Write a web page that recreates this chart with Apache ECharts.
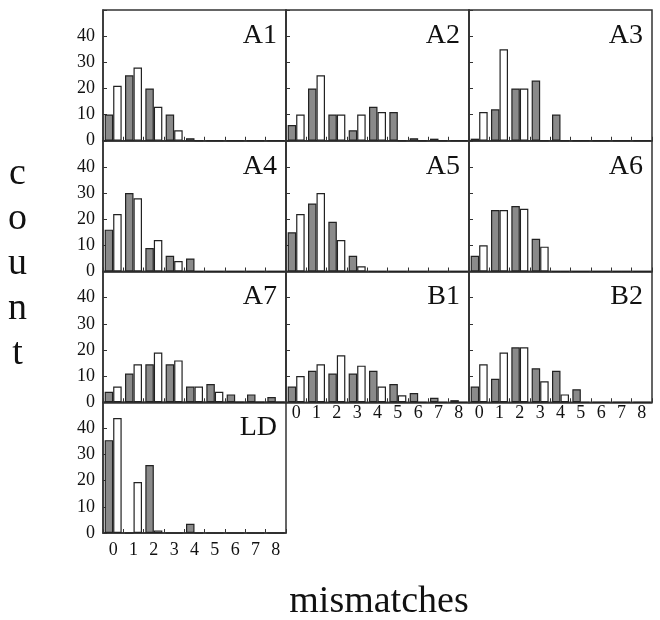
<!DOCTYPE html>
<html>
<head>
<meta charset="utf-8">
<script src="https://cdn.jsdelivr.net/npm/echarts@6/dist/echarts.min.js"></script>
<style>
html,body{margin:0;padding:0;background:#fff;}
#chart{width:660px;height:620px;}
</style>
</head>
<body>
<div id="chart"></div>
<script>
// ---- data ----
const categories = ['0','1','2','3','4','5','6','7','8'];
const yTickValues = [0, 10, 20, 30, 40];
const panelNames = ['A1','A2','A3','A4','A5','A6','A7','B1','B2','LD'];

const a1Gray  = [10, 25, 20, 10, 1, 0, 0, 0, 0];
const a1White = [21, 28, 13, 4, 0, 0, 0, 0, 0];
const a2Gray  = [6, 20, 10, 4, 13, 11, 1, 0.8, 0];
const a2White = [10, 25, 10, 10, 11, 0, 0, 0, 0];
const a3Gray  = [0.8, 12, 20, 23, 10, 0, 0, 0, 0];
const a3White = [11, 35, 20, 0, 0, 0, 0, 0, 0];
const a4Gray  = [16, 30, 9, 6, 5, 0, 0, 0, 0];
const a4White = [22, 28, 12, 4, 0, 0, 0, 0, 0];
const a5Gray  = [15, 26, 19, 6, 0, 0, 0, 0, 0];
const a5White = [22, 30, 12, 2, 0, 0, 0, 0, 0];
const a6Gray  = [6, 23.5, 25, 12.5, 0, 0, 0, 0, 0];
const a6White = [10, 23.5, 24, 9.5, 0, 0, 0, 0, 0];
const a7Gray  = [4, 11, 14.5, 14.5, 6, 7, 3, 3, 2];
const a7White = [6, 14.5, 19, 16, 6, 4, 0, 0, 0];
const b1Gray  = [6, 12, 11, 11, 12, 7, 3.5, 1.7, 0.8];
const b1White = [10, 14.5, 18, 14, 6, 2.7, 0, 0, 0];
const b2Gray  = [6, 9, 21, 13, 12, 5, 0, 0, 0];
const b2White = [14.5, 19, 21, 8, 3, 0, 0, 0, 0];
const ldGray  = [35.5, 0, 26, 0, 3.5, 0, 0, 0, 0];
const ldWhite = [44, 19.5, 1, 0, 0, 0, 0, 0, 0];

const grayValues  = [a1Gray, a2Gray, a3Gray, a4Gray, a5Gray, a6Gray, a7Gray, b1Gray, b2Gray, ldGray];
const whiteValues = [a1White, a2White, a3White, a4White, a5White, a6White, a7White, b1White, b2White, ldWhite];

// ---- layout ----
const FONT = '"Liberation Serif", "Times New Roman", serif';
const TXT = '#111';
const LINE = '#333';
const gridLeft0 = 103, gridW = 183, gridTop0 = 10, gridH = 130.75;
const positions = [[0,0],[0,1],[0,2],[1,0],[1,1],[1,2],[2,0],[2,1],[2,2],[3,0]];
const bottomPanels = {6:false, 7:true, 8:true, 9:true};

const grids = [], xAxes = [], yAxes = [], series = [], graphics = [];
positions.forEach(([r, c], i) => {
  const left = gridLeft0 + gridW * c;
  const top = gridTop0 + gridH * r;
  grids.push({left: left, top: top, width: gridW, height: gridH,
    show: true, borderColor: LINE, borderWidth: 1.5, backgroundColor: 'transparent'});
  const showX = !!bottomPanels[i];
  xAxes.push({
    type: 'category', gridIndex: i, data: categories, boundaryGap: true,
    axisLine: {show: true, lineStyle: {color: LINE, width: 1.5}},
    axisTick: {show: true, inside: true, length: 4, lineStyle: {color: LINE, width: 1}},
    axisLabel: {show: showX, margin: i === 9 ? 8.5 : 2, fontFamily: FONT, fontSize: 18, color: TXT},
    splitLine: {show: false}
  });
  yAxes.push({
    type: 'value', gridIndex: i, min: 0, max: 50, interval: 10,
    axisLine: {show: true, lineStyle: {color: LINE, width: 1.5}},
    axisTick: {show: true, inside: true, length: 4, lineStyle: {color: LINE, width: 1}},
    axisLabel: {show: c === 0, margin: 8, fontFamily: FONT, fontSize: 18, color: TXT,
      formatter: v => yTickValues.indexOf(v) >= 0 ? String(v) : ''},
    splitLine: {show: false}
  });
  series.push({
    type: 'bar', xAxisIndex: i, yAxisIndex: i, data: grayValues[i],
    barWidth: 8.5, barGap: '0%',
    itemStyle: {color: '#8a8a8a', borderColor: '#222', borderWidth: 1.2},
    silent: true
  });
  series.push({
    type: 'bar', xAxisIndex: i, yAxisIndex: i, data: whiteValues[i],
    barWidth: 8.5, barGap: '0%',
    itemStyle: {color: '#ffffff', borderColor: '#222', borderWidth: 1.2},
    silent: true
  });
  graphics.push({
    type: 'text', x: left + gridW - 9, y: top + 25.5, z: 10,
    style: {text: panelNames[i], font: '28px ' + FONT, fill: TXT, textAlign: 'right', textVerticalAlign: 'middle'}
  });
});

graphics.push({
  type: 'text', x: 17.5, y: 151.7,
  style: {text: 'c\no\nu\nn\nt', font: '38px ' + FONT, fill: TXT, textAlign: 'center', textVerticalAlign: 'top', lineHeight: 45}
});
graphics.push({
  type: 'text', x: 379, y: 602,
  style: {text: 'mismatches', font: '38px ' + FONT, fill: TXT, textAlign: 'center', textVerticalAlign: 'middle'}
});

const chart = echarts.init(document.getElementById('chart'), null, {renderer: 'canvas'});
chart.setOption({
  animation: false,
  backgroundColor: '#fff',
  grid: grids,
  xAxis: xAxes,
  yAxis: yAxes,
  series: series,
  graphic: graphics
});
</script>
</body>
</html>
